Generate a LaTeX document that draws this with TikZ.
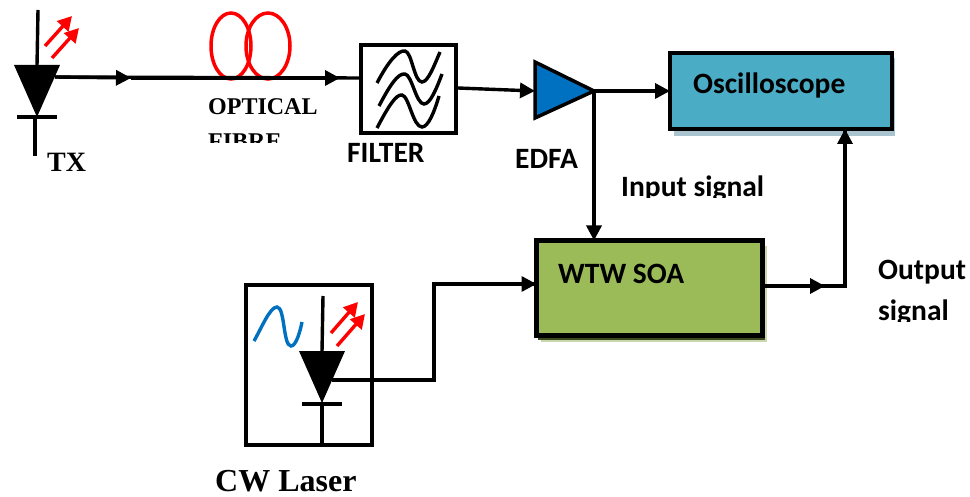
\documentclass[tikz,border=0pt]{standalone}
\usepackage{fontspec}
\setmainfont{Liberation Serif}
\newfontfamily\calibrifont{Carlito}
\usetikzlibrary{arrows.meta,shapes.geometric}
\definecolor{scopeblue}{HTML}{4BACC6}
\definecolor{scopeshade}{HTML}{A9C4CE}
\definecolor{soagreen}{HTML}{9BBB59}
\definecolor{soashade}{HTML}{C9D6AE}
\definecolor{soadark}{HTML}{3B4A1E}
\definecolor{edfablue}{HTML}{0070C0}
\definecolor{lightred}{HTML}{FF0000}

\begin{document}
\begin{tikzpicture}[
  x=1pt, y=-1pt,
  box/.style={draw, line width=#1, inner sep=0pt, outer sep=0pt},
  coil/.style={draw=lightred, line width=3.5pt, ellipse, minimum height=66pt, inner sep=0pt, outer sep=0pt},
  arr/.style={-{Triangle[length=15pt, width=15pt]}, line width=3.4pt},
  wire/.style={line width=3.4pt},
  lead/.style={line width=3.4pt},
  beam/.style={-{Triangle[length=14pt, width=15pt]}, line width=3.4pt, lightred},
  lbl/.style={font=\calibrifont\bfseries\fontsize{29.5}{30}\selectfont, anchor=base west, inner sep=0pt},
  serif/.style={font=\bfseries\fontsize{#1}{#1}\selectfont, anchor=base west, inner sep=0pt}
]
\useasboundingbox (0,0) rectangle (970,497);

% TX diode
\coordinate (tx_top) at (38,10);
\coordinate (tx_in) at (37,66);
\coordinate (tx_tip) at (37,117);
\coordinate (tx_end) at (35,156);
\coordinate (tx_out) at (55,77);
\draw[lead] (tx_top) -- (tx_in);
\fill (14,65) -- (60,65) -- (tx_tip) -- cycle;
\draw[lead] (17,117) -- (57,117);
\draw[lead] (tx_tip -| tx_end) -- (tx_end);
\draw[beam] (45,46) -- (72,16);
\draw[beam] (52,58) -- (79,28);
\node[serif=28] (tx_lbl) at (47,172) {TX};

% Fibre
\node[coil, minimum width=40pt] (coil_a) at (231,46) {};
\node[coil, minimum width=44pt] (coil_b) at (268,46) {};
\node[serif=24] (fibre_lbl) at (208,115) {OPTICAL};
\begin{scope}
\clip (200,120) rectangle (330,143);
\node[serif=24] (fibre_lbl2) at (208,150) {FIBRE};
\end{scope}

% Filter
\node[box=3.5pt, minimum width=95pt, minimum height=88pt] (filter) at (408.5,89) {};
\draw[lead] (377,83) .. controls (388,62) and (398,50) .. (405,51) .. controls (412,52) and (414,82) .. (422,82) .. controls (428,82) and (434,66) .. (440,52);
\draw[lead] (379,106) .. controls (390,85) and (398,73) .. (405,74) .. controls (412,75) and (416,104) .. (424,104) .. controls (430,104) and (436,90) .. (442,74);
\draw[lead] (377,128) .. controls (388,107) and (396,94) .. (402,95) .. controls (409,96) and (413,127) .. (422,127) .. controls (428,127) and (434,113) .. (439,96);
\node[lbl] (filter_lbl) at (347,163) {FILTER};

% EDFA
\coordinate (edfa_in) at (535,91);
\coordinate (edfa_out) at (594,91);
\draw[line width=3.5pt, fill=edfablue, line join=miter] (535,62) -- (535,118) -- (edfa_out) -- cycle;
\node[lbl] (edfa_lbl) at (515,169) {EDFA};

% Oscilloscope
\fill[scopeshade] (674,58) rectangle (895,136);
\node[box=4.5pt, fill=scopeblue, minimum width=222pt, minimum height=76pt] (scope) at (781,91) {};
\node[lbl] (scope_lbl) at (693,94) {Oscilloscope};

% SOA
\fill[soashade] (541,246) rectangle (767,342);
\fill[soadark] (538,336) rectangle (765,340);
\node[box=4.5pt, fill=soagreen, minimum width=226pt, minimum height=95pt] (soa) at (649.5,288) {};
\node[lbl] (soa_lbl) at (558,284) {WTW SOA};

% Labels with cut text
\begin{scope}
\clip (610,170) rectangle (775,198);
\node[lbl] (input_lbl) at (621,197) {Input signal};
\end{scope}
\node[lbl] (output_lbl) at (878,280) {Output};
\begin{scope}
\clip (870,295) rectangle (970,322);
\node[lbl] (output_lbl2) at (878,320) {signal};
\end{scope}

% CW laser
\node[box=4.5pt, minimum width=126pt, minimum height=160pt] (laser) at (309,365) {};
\draw[line width=3.4pt, edfablue] (254,341) .. controls (262,327) and (270,307) .. (277,307) .. controls (285,307) and (283,346) .. (291,346) .. controls (296,346) and (300,332) .. (302,322);
\coordinate (cw_top) at (323,296);
\coordinate (cw_in) at (322,352);
\coordinate (cw_tip) at (322,403);
\coordinate (cw_out) at (332,380);
\coordinate (cw_bend) at (434,380);
\draw[lead] (cw_top) -- (cw_in);
\fill (299,351) -- (345,351) -- (cw_tip) -- cycle;
\draw[lead] (302,404) -- (342,404);
\draw[lead] (cw_tip) -- (laser.south -| cw_tip);
\draw[beam] (331,333) -- (358,302);
\draw[beam] (337,346) -- (365,314);
\node[serif=32] (laser_lbl) at (215,491) {CW Laser};

% Connections
\coordinate (mid_a) at (131,78);
\coordinate (mid_b) at (340,78);
\coordinate (fil_out) at (458,88);
\coordinate (soa_in) at (434,284);
\coordinate (soa_out) at (763,286);
\coordinate (mid_c) at (825,286);
\coordinate (up_bend) at (845,286);
\coordinate (up_end) at (845,129);
\draw[wire] (tx_out) -- (filter.west |- mid_b);
\draw[arr] (tx_out) -- (mid_a);
\draw[arr] (mid_a) -- (mid_b);
\draw[arr] (fil_out) -- (edfa_in);
\draw[arr] (edfa_out) -- (scope.west |- edfa_out);
\draw[arr] (edfa_out) -- (soa.north -| edfa_out);
\draw[wire, line join=miter] (cw_out) -- (cw_bend) -- (soa_in) -- (soa.west |- soa_in);
\draw[arr] (soa_in) -- (soa.west |- soa_in);
\draw[wire, line join=miter] (soa.east |- soa_out) -- (up_bend) -- (up_end);
\draw[arr] (soa.east |- soa_out) -- (mid_c);
\draw[arr] (up_bend) -- (up_end);
\end{tikzpicture}
\end{document}
